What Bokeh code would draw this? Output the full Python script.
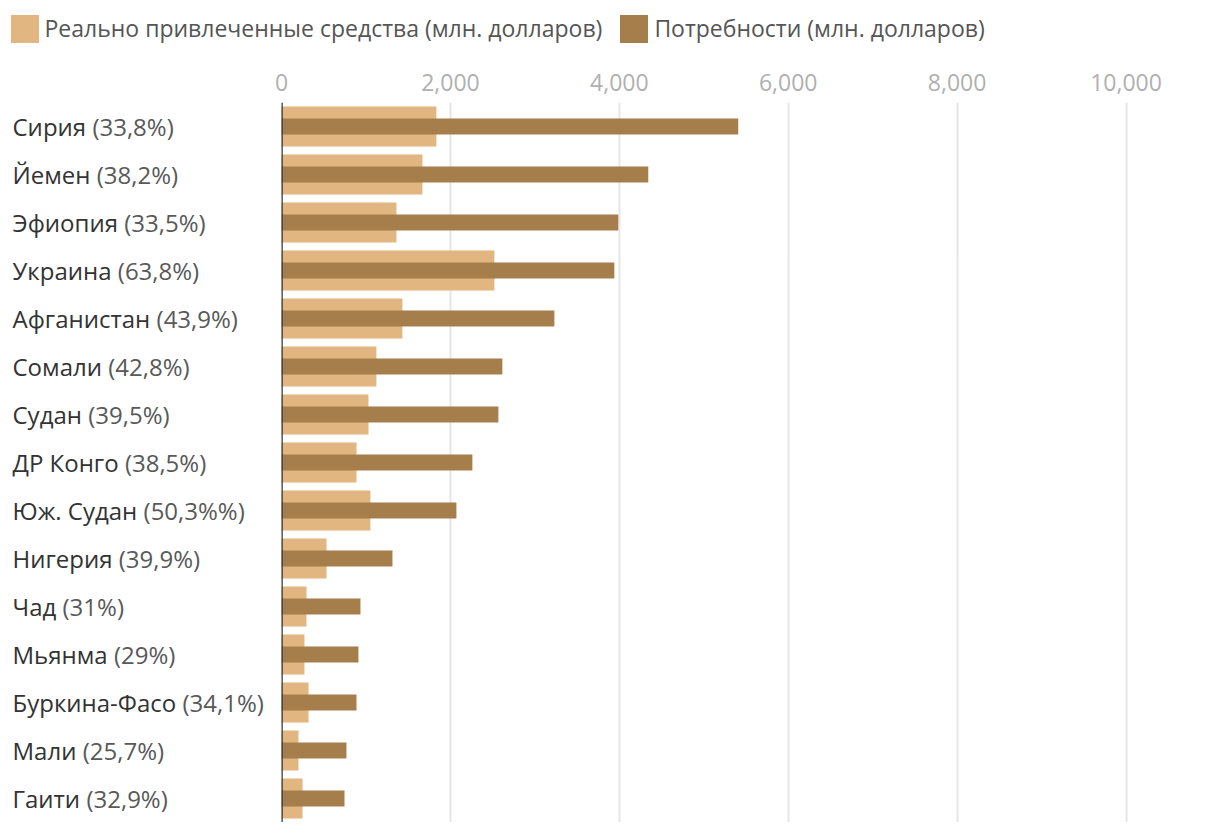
import subprocess
from bokeh.plotting import figure
from bokeh.layouts import column, row
from bokeh.models import (ColumnDataSource, FactorRange, Range1d, FixedTicker,
                          NumeralTickFormatter, Span, Legend, LegendItem)
from bokeh.core.properties import value
from bokeh.embed import file_html
from bokeh.resources import INLINE

countries = ["Сирия", "Йемен", "Эфиопия", "Украина", "Афганистан", "Сомали", "Судан",
             "ДР Конго", "Юж. Судан", "Нигерия", "Чад", "Мьянма", "Буркина-Фасо",
             "Мали", "Гаити"]
percents = ["33,8%", "38,2%", "33,5%", "63,8%", "43,9%", "42,8%", "39,5%", "38,5%",
            "50,3%%", "39,9%", "31%", "29%", "34,1%", "25,7%", "32,9%"]
funded = [1834, 1669, 1361, 2521, 1432, 1124, 1030, 888, 1053, 533, 296, 272, 320, 201, 249]
required = [5408, 4343, 3988, 3941, 3231, 2615, 2568, 2260, 2071, 1314, 935, 911, 888, 769, 746]
x_ticks = [0, 2000, 4000, 6000, 8000, 10000]
legend_funded = "Реально привлеченные средства (млн. долларов)"
legend_required = "Потребности (млн. долларов)"

LIGHT = "#E1B680"
DARK = "#A57E4B"
FONT = "Open Sans"
LABEL_SIZE = 24
LABEL_X = 12

# measure the country-name widths so the percentage can follow in a lighter tone
pct_texts = [f"({p})" for p in percents]
pct_offsets = None
try:
    from PIL import ImageFont
    path = subprocess.run(["fc-match", "-f", "%{file}", FONT],
                          capture_output=True, text=True).stdout.strip()
    fnt = ImageFont.truetype(path, LABEL_SIZE)
    pct_offsets = [LABEL_X + fnt.getlength(c + " ") for c in countries]
except Exception:
    pct_offsets = None

src = ColumnDataSource(dict(country=countries, funded=funded, required=required,
                            pct=pct_texts, zero=[0] * len(countries),
                            full=[f"{c} {t}" for c, t in zip(countries, pct_texts)],
                            poff=pct_offsets if pct_offsets else [0] * len(countries)))

yr = FactorRange(factors=list(reversed(countries)), range_padding=0)

LEG_H = 50
BODY_H = 822 - LEG_H
TOP = 102 - LEG_H
LAB_W = 271
PAD_L = 10


def clean(fig):
    fig.outline_line_color = None
    fig.background_fill_color = "white"
    fig.border_fill_color = "white"


# ---- legend strip ----
leg = figure(width=1212, height=LEG_H, output_backend="svg", toolbar_location=None,
             x_range=Range1d(0, 1), y_range=Range1d(0, 1),
             min_border_left=0, min_border_right=0, min_border_top=0, min_border_bottom=0)
clean(leg)
leg.axis.visible = False
leg.grid.visible = False
e = ColumnDataSource(dict(y=[5], left=[5], right=[6]))
lr1 = leg.hbar(y="y", left="left", right="right", height=1, source=e,
               fill_color=LIGHT, line_color=None)
lr2 = leg.hbar(y="y", left="left", right="right", height=1, source=e,
               fill_color=DARK, line_color=None)
legend = Legend(items=[LegendItem(label=legend_funded, renderers=[lr1]),
                       LegendItem(label=legend_required, renderers=[lr2])],
                orientation="horizontal", location=(6.5, 4.5),
                glyph_width=35, glyph_height=35, label_standoff=3, spacing=14,
                padding=0, margin=0, border_line_color=None,
                background_fill_alpha=0,
                label_text_font=FONT, label_text_font_size="23px",
                label_text_color="#555555")
leg.add_layout(legend, "center")

# ---- country labels ----
lab = figure(width=LAB_W, height=BODY_H, output_backend="svg", toolbar_location=None,
             x_range=Range1d(0, 1), y_range=yr,
             min_border_left=0, min_border_right=0, min_border_top=TOP, min_border_bottom=0)
clean(lab)
lab.axis.visible = False
lab.grid.visible = False
if pct_offsets:
    lab.text(x="zero", y="country", text="country", source=src, x_offset=LABEL_X,
             text_align="left", text_baseline="middle", text_font=value(FONT),
             text_font_size=f"{LABEL_SIZE}px", text_color="#333333")
    lab.text(x="zero", y="country", text="pct", source=src, x_offset="poff",
             text_align="left", text_baseline="middle", text_font=value(FONT),
             text_font_size=f"{LABEL_SIZE}px", text_color="#595959")
else:
    lab.text(x="zero", y="country", text="full", source=src, x_offset=LABEL_X,
             text_align="left", text_baseline="middle", text_font=value(FONT),
             text_font_size=f"{LABEL_SIZE}px", text_color="#333333")

# ---- bars ----
p = figure(width=1212 - LAB_W, height=BODY_H, output_backend="svg", toolbar_location=None,
           y_range=yr, x_range=Range1d(0, 11000), x_axis_location="above",
           min_border_left=PAD_L, min_border_right=2, min_border_bottom=0,
           min_border_top=TOP)
clean(p)
p.hbar(y="country", right="funded", left=0, height=0.833, source=src,
       fill_color=LIGHT, line_color=None)
p.hbar(y="country", right="required", left=0, height=0.333, source=src,
       fill_color=DARK, line_color=None)

p.yaxis.visible = False
xa = p.xaxis[0]
xa.ticker = FixedTicker(ticks=x_ticks)
xa.formatter = NumeralTickFormatter(format="0,0")
xa.axis_line_color = None
xa.major_tick_line_color = None
xa.minor_tick_line_color = None
xa.major_label_text_font = FONT
xa.major_label_text_font_size = "23px"
xa.major_label_text_color = "#b0b0b0"
xa.major_label_standoff = 6

p.xgrid.ticker = FixedTicker(ticks=x_ticks[1:])
p.xgrid.grid_line_color = "#e6e6e6"
p.xgrid.grid_line_width = 2
p.ygrid.grid_line_color = None

p.add_layout(Span(location=0, dimension="height", line_color="#333333", line_width=2.5))

layout = column(leg, row(lab, p, spacing=0), spacing=0)
open("out.html", "w").write(file_html(layout, INLINE))
